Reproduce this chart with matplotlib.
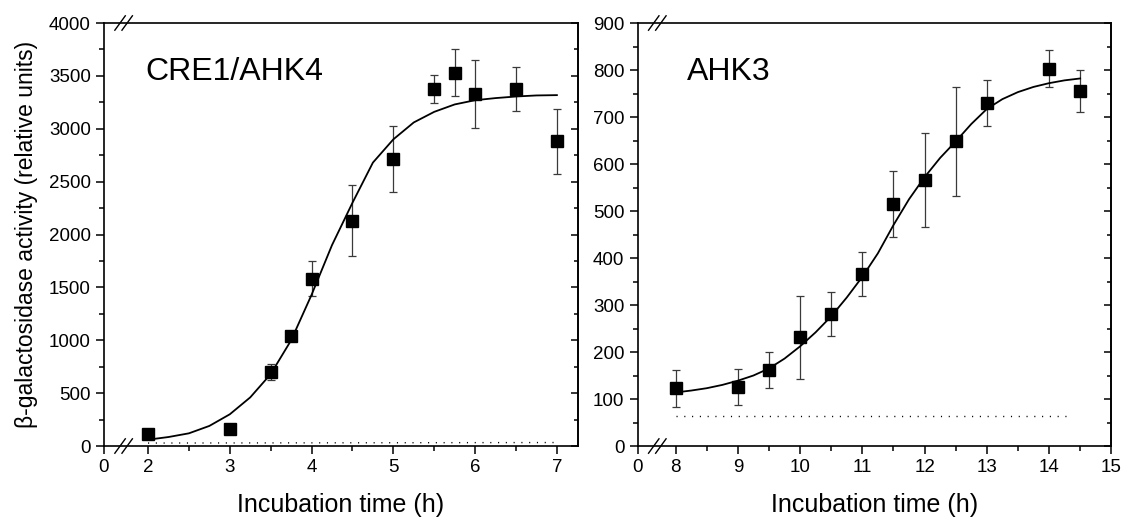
import matplotlib
matplotlib.use("Agg")
import matplotlib.pyplot as plt
from matplotlib.ticker import FixedLocator, MultipleLocator

plt.rcParams['font.family'] = ['Liberation Sans', 'DejaVu Sans']

# CRE1/AHK4 - misure
x_cre = [2, 3, 3.5, 3.75, 4, 4.5, 5, 5.5, 5.75, 6, 6.5, 7]
y_cre = [115, 165, 700, 1045, 1580, 2130, 2715, 3375, 3530, 3330, 3375, 2880]
err_cre = [0, 0, 80, 0, 165, 335, 310, 135, 220, 320, 210, 310]
# curva di fit
fit_x_cre = [2.0, 2.25, 2.5, 2.75, 3.0, 3.25, 3.5, 3.75, 4.0, 4.25, 4.5,
             4.75, 5.0, 5.25, 5.5, 5.75, 6.0, 6.25, 6.5, 6.75, 7.0]
fit_y_cre = [60, 85, 120, 190, 300, 460, 680, 1000, 1430, 1900, 2300,
             2680, 2900, 3060, 3160, 3230, 3270, 3290, 3305, 3315, 3318]
# fondo (linea puntinata)
bg_x_cre = [2, 7]
bg_y_cre = [28, 33]

# AHK3 - misure
x_ahk3 = [8, 9, 9.5, 10, 10.5, 11, 11.5, 12, 12.5, 13, 14, 14.5]
y_ahk3 = [123, 126, 162, 231, 281, 366, 515, 566, 648, 730, 803, 755]
err_ahk3 = [39, 38, 38, 88, 47, 47, 70, 100, 115, 49, 40, 44]
fit_x_ahk3 = [8.0, 8.25, 8.5, 8.75, 9.0, 9.25, 9.5, 9.75, 10.0, 10.25, 10.5,
              10.75, 11.0, 11.25, 11.5, 11.75, 12.0, 12.25, 12.5, 12.75, 13.0,
              13.25, 13.5, 13.75, 14.0, 14.25, 14.5]
fit_y_ahk3 = [114, 118, 123, 130, 139, 150, 165, 186, 212, 242, 276,
              316, 360, 410, 470, 525, 572, 613, 648, 685, 717,
              738, 753, 764, 772, 778, 782]
bg_x_ahk3 = [8, 14.35]
bg_y_ahk3 = [64, 64]

# assi: limiti, tick
xlim_cre = (1.461, 7.257)
xlim_ahk3 = (7.39, 15.0)
xticks_cre = [2, 3, 4, 5, 6, 7]
xticks_ahk3 = [8, 9, 10, 11, 12, 13, 14, 15]


def pannello(ax, xs, ys, errs, fx, fy, bx, by, xlim, xticks, ymax, ystep, titolo, tx):
    ax.plot(bx, by, color='black', linestyle=(0, (0.8, 4.8)), linewidth=1.0)
    ax.plot(fx, fy, color='black', linewidth=1.3, zorder=3)
    ax.errorbar(xs, ys, yerr=errs, fmt='none', ecolor='#3a3a3a',
                elinewidth=0.9, capsize=3, capthick=0.9, zorder=2)
    ax.plot(xs, ys, 's', color='black', markersize=8, zorder=4)

    ax.set_xlim(xlim)
    ax.set_ylim(0, ymax)
    # lo "0" a sinistra dell'interruzione
    ax.set_xticks([xlim[0]] + xticks)
    ax.set_xticklabels(['0'] + [str(t) for t in xticks])
    ax.xaxis.set_minor_locator(FixedLocator([t + 0.5 for t in xticks[:-1]]))
    ax.yaxis.set_major_locator(MultipleLocator(ystep))
    ax.yaxis.set_minor_locator(MultipleLocator(ystep / 2))
    ax.tick_params(which='both', direction='out', labelsize=13.5, width=1.1)
    ax.tick_params(which='major', length=6)
    ax.tick_params(which='minor', length=3.5)
    for s in ax.spines.values():
        s.set_linewidth(1.2)

    # tick interni sul lato destro
    sec = ax.secondary_yaxis('right')
    sec.yaxis.set_major_locator(MultipleLocator(ystep))
    sec.yaxis.set_minor_locator(MultipleLocator(ystep / 2))
    sec.tick_params(which='both', direction='in', labelright=False, width=1.1)
    sec.tick_params(which='major', length=5)
    sec.tick_params(which='minor', length=3)
    sec.spines['right'].set_linewidth(1.2)

    # segni di interruzione //
    for yb in (0, 1):
        for xb in (0.034, 0.049):
            ax.plot([xb - 0.011, xb + 0.011], [yb - 0.017, yb + 0.017],
                    transform=ax.transAxes, color='black', linewidth=1.0,
                    clip_on=False, zorder=5)

    ax.text(tx, 0.885, titolo, transform=ax.transAxes, fontsize=23,
            va='center', ha='left')
    ax.set_xlabel('Incubation time (h)', fontsize=18, labelpad=12)


fig = plt.figure(figsize=(11.25, 5.17), dpi=100)
ax1 = fig.add_axes([0.0924, 0.1373, 0.4213, 0.8182])
ax2 = fig.add_axes([0.5668, 0.1373, 0.4210, 0.8182])

pannello(ax1, x_cre, y_cre, err_cre, fit_x_cre, fit_y_cre, bg_x_cre, bg_y_cre,
         xlim_cre, xticks_cre, 4000, 500, 'CRE1/AHK4', 0.087)
pannello(ax2, x_ahk3, y_ahk3, err_ahk3, fit_x_ahk3, fit_y_ahk3, bg_x_ahk3, bg_y_ahk3,
         xlim_ahk3, xticks_ahk3, 900, 100, 'AHK3', 0.104)

ax1.set_ylabel('β-galactosidase activity (relative units)', fontsize=16.5, labelpad=8)

fig.savefig('out.png', dpi=100)
plt.close(fig)
